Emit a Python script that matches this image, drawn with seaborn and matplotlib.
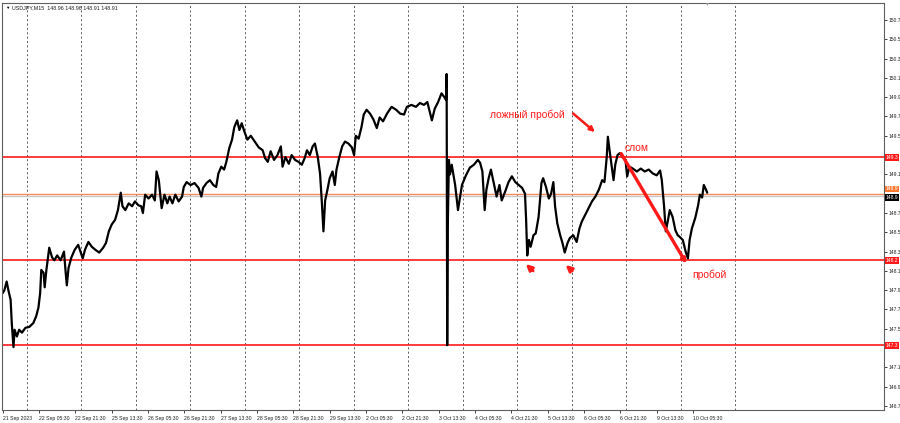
import numpy as np
import pandas as pd
import matplotlib
matplotlib.use("Agg")
import matplotlib.pyplot as plt
import matplotlib.transforms as mtransforms
import seaborn as sns

# ── Data: USDJPY M15, close prices ───────────────────────────────────
# bar index counts M15 bars from 21 Sep 2023 13:30 (weekends skipped)
BAR_IDX = [
    0, 3, 7, 10, 14, 16, 19, 21, 25, 29, 34, 40, 47, 54, 59, 63, 66, 68, 72, 74,
    77, 82, 87, 91, 96, 102, 108, 111, 113, 116, 121, 127, 133, 137, 141, 145, 151, 157, 163, 170,
    177, 182, 187, 192, 198, 203, 208, 211, 216, 222, 228, 233, 239, 244, 247, 251, 257, 263, 268, 271,
    275, 278, 280, 285, 290, 294, 299, 304, 310, 316, 319, 324, 331, 338, 345, 350, 353, 359, 365, 371,
    376, 380, 385, 390, 394, 399, 404, 408, 413, 417, 421, 426, 431, 437, 444, 451, 458, 462, 467, 472,
    478, 484, 490, 493, 498, 504, 509, 515, 521, 527, 532, 536, 541, 546, 550, 555, 559, 562, 565, 568,
    572, 576, 581, 585, 588, 593, 598, 603, 609, 615, 619, 622, 627, 632, 636, 641, 647, 653, 659, 664,
    670, 677, 685, 693, 700, 707, 712, 720, 728, 735, 742, 748, 753, 756, 761, 767, 773, 778, 781, 782,
    783, 784, 786, 788, 791, 797, 802, 809, 816, 823, 830, 837, 841, 845, 849, 852, 856, 860, 865, 870,
    875, 879, 885, 891, 897, 903, 909, 915, 920, 922, 924, 927, 930, 935, 939, 944, 949, 952, 957, 962,
    966, 970, 973, 977, 982, 986, 990, 995, 999, 1005, 1011, 1016, 1020, 1026, 1032, 1038, 1044, 1050, 1056, 1060,
    1064, 1066, 1069, 1072, 1076, 1079, 1083, 1087, 1092, 1097, 1100, 1104, 1110, 1117, 1124, 1131, 1138, 1145, 1152, 1158,
    1161, 1165, 1168, 1172, 1175, 1180, 1185, 1189, 1193, 1198, 1203, 1207, 1210, 1214, 1220, 1225, 1228, 1232, 1235, 1239,
    1241,
]
CLOSE = [
    147.87, 147.90, 147.99, 147.90, 147.80, 147.56, 147.31, 147.49, 147.42, 147.49, 147.46, 147.51, 147.52, 147.56, 147.63, 147.72, 147.87, 148.11, 148.08, 147.93,
    148.11, 148.34, 148.24, 148.21, 148.26, 148.21, 148.30, 148.08, 147.95, 148.13, 148.24, 148.32, 148.37, 148.30, 148.23, 148.32, 148.40, 148.35, 148.32, 148.29,
    148.34, 148.39, 148.51, 148.58, 148.63, 148.73, 148.91, 148.77, 148.73, 148.80, 148.77, 148.82, 148.78, 148.77, 148.70, 148.89, 148.85, 148.89, 148.83, 149.13,
    149.04, 148.87, 148.75, 148.89, 148.80, 148.87, 148.80, 148.89, 148.82, 148.87, 148.97, 149.02, 148.99, 149.01, 148.96, 148.87, 148.96, 149.01, 149.04, 148.99,
    148.97, 149.11, 149.18, 149.15, 149.23, 149.37, 149.46, 149.59, 149.66, 149.56, 149.63, 149.54, 149.46, 149.50, 149.44, 149.38, 149.35, 149.27, 149.23, 149.34,
    149.25, 149.30, 149.39, 149.18, 149.28, 149.21, 149.30, 149.25, 149.23, 149.20, 149.27, 149.35, 149.30, 149.39, 149.42, 149.28, 149.11, 148.83, 148.51, 148.83,
    148.94, 149.06, 149.13, 148.99, 149.15, 149.28, 149.39, 149.44, 149.42, 149.38, 149.30, 149.50, 149.47, 149.59, 149.72, 149.77, 149.73, 149.67, 149.58, 149.69,
    149.65, 149.73, 149.80, 149.77, 149.73, 149.72, 149.80, 149.82, 149.80, 149.84, 149.82, 149.85, 149.73, 149.66, 149.78, 149.85, 149.94, 149.90, 149.87, 150.14,
    147.33, 148.55, 149.25, 149.10, 149.20, 148.99, 148.73, 148.99, 149.09, 149.17, 149.20, 149.25, 149.22, 149.13, 148.73, 148.94, 149.06, 149.15, 149.01, 148.87,
    148.99, 148.83, 148.92, 149.02, 149.08, 149.02, 148.99, 148.96, 148.90, 148.63, 148.26, 148.42, 148.35, 148.47, 148.49, 148.66, 149.01, 149.06, 148.97, 148.85,
    148.90, 149.02, 148.77, 148.59, 148.47, 148.39, 148.29, 148.39, 148.44, 148.47, 148.40, 148.54, 148.61, 148.68, 148.75, 148.82, 148.87, 148.94, 149.04, 149.02,
    149.28, 149.49, 149.35, 149.22, 149.04, 149.20, 149.30, 149.32, 149.28, 149.25, 149.08, 149.18, 149.16, 149.13, 149.16, 149.13, 149.15, 149.11, 149.09, 149.14,
    149.04, 148.77, 148.51, 148.63, 148.73, 148.66, 148.52, 148.47, 148.45, 148.42, 148.30, 148.23, 148.42, 148.54, 148.65, 148.78, 148.89, 148.86, 148.99, 148.94,
    148.91,
]

# horizontal levels drawn on the chart
RED_LEVELS = [149.28, 148.21, 147.33]
ORANGE_LEVEL = 148.90
BID_LEVEL = 148.88
BID_TEXT = "148.9"

# x axis labels (every 64 bars = 16 h)
XTICK_LABELS = [
    "21 Sep 2023", "22 Sep 05:30", "22 Sep 21:30", "25 Sep 13:30", "26 Sep 05:30",
    "26 Sep 21:30", "27 Sep 13:30", "28 Sep 05:30", "28 Sep 21:30", "29 Sep 13:30",
    "2 Oct 05:30", "2 Oct 21:30", "3 Oct 13:30", "4 Oct 05:30", "4 Oct 21:30",
    "5 Oct 13:30", "6 Oct 05:30", "6 Oct 21:30", "9 Oct 13:30", "10 Oct 05:30",
]
BARS_PER_LABEL = 64
BARS_PER_DAY = 96
FIRST_MIDNIGHT = 42
N_DAY_LINES = 14
YTICKS = [round(146.7 + 0.2 * k, 1) for k in range(21)]

TITLE = "USDJPY,M15  148.96 148.96 148.91 148.91"

RED = "#ff1a1a"
FONT = ["Liberation Sans", "DejaVu Sans"]

# ── Figure ───────────────────────────────────────────────────────────
sns.set_style("white")
plt.rcParams["font.family"] = FONT

W, H = 900, 423
fig = plt.figure(figsize=(W / 100, H / 100), dpi=100)
ax = fig.add_axes([2 / W, 1 - 410 / H, 882 / W, 407 / H])

df = pd.DataFrame({"bar": BAR_IDX, "price": CLOSE})
sns.lineplot(data=df, x="bar", y="price", ax=ax, color="black", lw=1.6,
             estimator=None, sort=False, legend=False)

ax.set_xlim(-1.2, 1552.4)
ax.set_ylim(146.6585, 150.876)
ax.set_xlabel("")
ax.set_ylabel("")

# day separators (dotted)
for k in range(N_DAY_LINES):
    ax.axvline(FIRST_MIDNIGHT + k * BARS_PER_DAY, color="#5a5a5a",
               lw=0.7, ls=(0, (2, 2.5)), zorder=0)

# levels
for lv in RED_LEVELS:
    ax.axhline(lv, color=RED, lw=1.2, zorder=1)
ax.axhline(ORANGE_LEVEL, color="#f58a5a", lw=1.0, zorder=1)
ax.axhline(BID_LEVEL, color="#c8c8c8", lw=1.0, zorder=1)

# axes styling
for s in ax.spines.values():
    s.set_color("#5f5f5f")
    s.set_linewidth(0.8)

ax.set_xticks([i * BARS_PER_LABEL for i in range(len(XTICK_LABELS))])
ax.set_xticklabels(XTICK_LABELS)
for lbl in ax.get_xticklabels():
    lbl.set_horizontalalignment("left")
ax.tick_params(axis="x", length=2.5, width=0.6, pad=1.5, labelsize=3.7,
               colors="#222222", direction="out", bottom=True)

# scale labels hidden under the price boxes, as the terminal does
boxed = RED_LEVELS + [ORANGE_LEVEL, BID_LEVEL]
ylabels = ["" if min(abs(v - b) for b in boxed) < 0.07 else f"{v:.1f}" for v in YTICKS]
ax.yaxis.tick_right()
ax.set_yticks(YTICKS)
ax.set_yticklabels(ylabels)
ax.tick_params(axis="y", length=2.2, width=0.6, pad=1.0, labelsize=3.6,
               colors="#222222", direction="out", right=True)

# price boxes on the right scale
trans = mtransforms.blended_transform_factory(ax.transAxes, ax.transData)
box_kw = dict(transform=trans, fontsize=3.6, color="white", va="center",
              ha="left", clip_on=False)
for lv in RED_LEVELS:
    ax.text(1.002, lv, f"{lv:.1f}",
            bbox=dict(boxstyle="square,pad=0.2", fc=RED, ec="none"), **box_kw)
ax.text(1.002, ORANGE_LEVEL + 0.05, f"{ORANGE_LEVEL:.1f}",
        bbox=dict(boxstyle="square,pad=0.15", fc="#ff7a30", ec="none"), **box_kw)
ax.text(1.002, BID_LEVEL - 0.02, BID_TEXT,
        bbox=dict(boxstyle="square,pad=0.15", fc="black", ec="none"), **box_kw)

# ── Annotations ──────────────────────────────────────────────────────
ax.text(859, 149.715, "ложный пробой", color=RED, fontsize=7.4, va="center", ha="left")
ax.annotate("", xy=(1047, 149.52), xytext=(1001, 149.75),
            arrowprops=dict(arrowstyle="-|>", color=RED, lw=1.8, mutation_scale=7))
ax.text(1096, 149.37, "слом", color=RED, fontsize=7.4, va="center", ha="left")
ax.annotate("", xy=(1207, 148.15), xytext=(1087, 149.34),
            arrowprops=dict(arrowstyle="-|>", color=RED, lw=2.4, mutation_scale=6))
ax.text(1214, 148.06, "пробой", color=RED, fontsize=7.4, va="center", ha="left")
ax.annotate("", xy=(918, 148.19), xytext=(938, 148.08),
            arrowprops=dict(arrowstyle="-|>", color=RED, lw=2.0, mutation_scale=9))
ax.annotate("", xy=(988, 148.18), xytext=(1007, 148.08),
            arrowprops=dict(arrowstyle="-|>", color=RED, lw=2.0, mutation_scale=9))

# chart header and shift marker
fig.text(5 / W, 1 - 8 / H, "▼", fontsize=3.2, color="black", va="center", ha="left")
fig.text(12 / W, 1 - 8 / H, TITLE, fontsize=3.9, color="#222222", va="center", ha="left")
fig.text(706 / W, 1 - 4 / H, "▼", fontsize=3.5, color="#a0a0a0", va="center", ha="center")

fig.savefig("out.png", dpi=100)
